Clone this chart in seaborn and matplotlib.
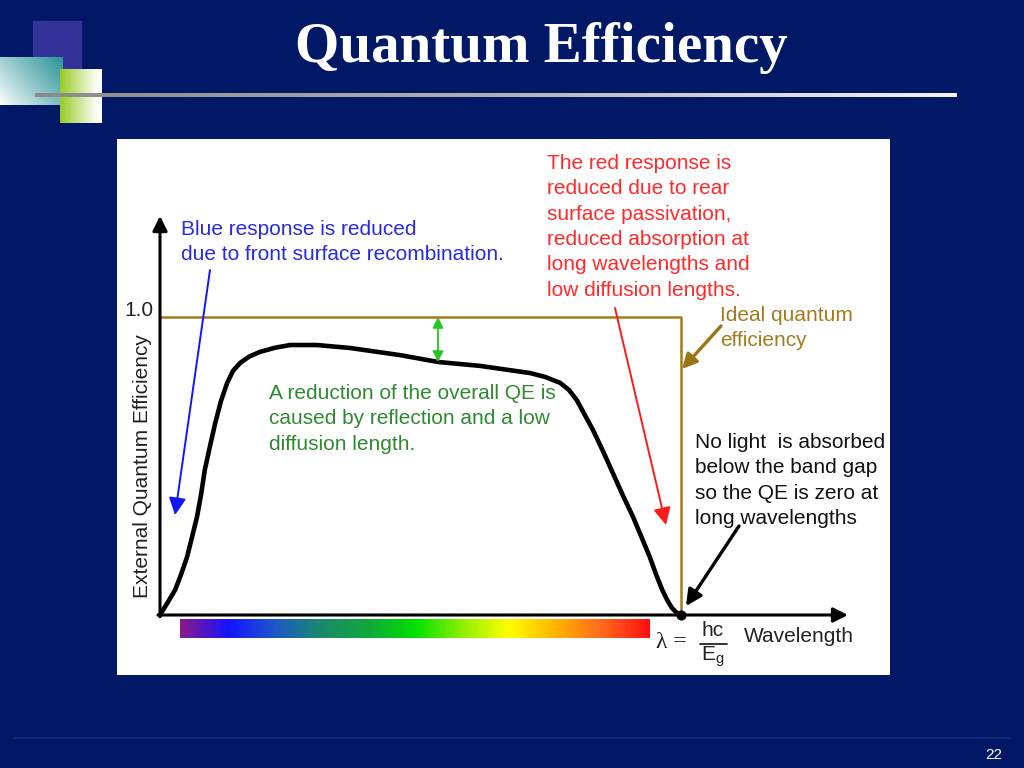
import numpy as np
import matplotlib
matplotlib.use("Agg")
import matplotlib.pyplot as plt
import seaborn as sns
from matplotlib.patches import Rectangle
from matplotlib.lines import Line2D
from matplotlib.colors import LinearSegmentedColormap

# wavelength normalised so that the band gap (lambda = hc/Eg) sits at 1.0
qe_wavelength = [0.0, 0.013, 0.029, 0.040, 0.052, 0.061, 0.071, 0.079, 0.086,
                 0.096, 0.106, 0.117, 0.129, 0.140, 0.154, 0.171, 0.192, 0.221,
                 0.250, 0.301, 0.365, 0.461, 0.534, 0.614, 0.710, 0.739, 0.768,
                 0.785, 0.800, 0.831, 0.850, 0.869, 0.888, 0.908, 0.925, 0.940,
                 0.952, 0.964, 0.975, 0.983, 0.992, 1.0]
qe_external = [0.0, 0.037, 0.084, 0.134, 0.195, 0.258, 0.329, 0.406, 0.487,
               0.567, 0.644, 0.718, 0.779, 0.819, 0.846, 0.867, 0.883, 0.897,
               0.906, 0.906, 0.896, 0.872, 0.849, 0.836, 0.812, 0.799, 0.779,
               0.755, 0.721, 0.621, 0.551, 0.477, 0.403, 0.329, 0.258, 0.195,
               0.137, 0.084, 0.045, 0.023, 0.007, 0.0]
ideal_wavelength = [0.0, 1.0, 1.0]
ideal_qe = [1.0, 1.0, 0.0]
spectrum_colors = ["#8a1a8c", "#1414ff", "#1e58c8", "#1a8a6a", "#12a83c",
                   "#00e000", "#8cf000", "#ffff00", "#ffb400", "#ff6a1e", "#ff1010"]

NAVY = "#001866"
FONT = ["Liberation Sans", "DejaVu Sans"]

sns.set_theme(style="white")
plt.rcParams["font.family"] = FONT

fig = plt.figure(figsize=(10.24, 7.68), dpi=100)
fig.patch.set_facecolor(NAVY)

# slide decoration in pixel coordinates
bg = fig.add_axes([0, 0, 1, 1])
bg.axis("off")
bg.set_facecolor(NAVY)

bg.add_patch(Rectangle((33, 21), 48, 47, color="#333399", zorder=1))
# teal -> white block
h, w = 48, 63
gx, gy = np.meshgrid(np.linspace(0, 1, w), np.linspace(0, 1, h))
t = np.clip((gx * 1.2 + (1 - gy) * 0.8) / 2, 0, 1) ** 0.9
teal = np.array([0.17, 0.58, 0.60])
img = (1 - t)[..., None] * np.ones(3) + t[..., None] * teal
bg.imshow(img, extent=[0, 63, 105, 57], zorder=2, interpolation="bilinear")
# yellow-green -> white block
h, w = 54, 42
gx, gy = np.meshgrid(np.linspace(0, 1, w), np.linspace(0, 1, h))
t = np.clip(gx * 1.1, 0, 1)
green = np.array([0.60, 0.80, 0.14])
img = (1 - t)[..., None] * green + t[..., None] * np.ones(3)
bg.imshow(img, extent=[60, 102, 123, 69], zorder=3, interpolation="bilinear")
# grey rule under the title
rule = np.linspace(0, 1, 200)[None, :]
rule_cmap = LinearSegmentedColormap.from_list("rule", ["#8a8a8a", "#b0b0b8", "#f4f4f8"])
bg.imshow(rule, cmap=rule_cmap, extent=[35, 957, 97, 93], aspect="auto", zorder=4)
bg.add_line(Line2D([15, 1010], [738, 738], color="#0e2c80", lw=1.2, zorder=1))
bg.set_xlim(0, 1024)
bg.set_ylim(768, 0)

bg.text(541, 48, "Quantum Efficiency", color="white", fontsize=41, fontweight="bold",
        family=["Liberation Serif", "DejaVu Serif"], ha="center", va="center")
bg.text(994, 755, "22", color="white", fontsize=11, ha="center", va="center")

# chart panel
ax = fig.add_axes([117 / 1024, (768 - 675) / 768, 773 / 1024, 536 / 768])
ax.set_facecolor("white")


def pt(x, y):
    # reference pixel -> data coordinates of the chart
    return (x - 160) / 521, (615 - y) / 298


sns.lineplot(x=ideal_wavelength, y=ideal_qe, sort=False, estimator=None,
             color="#a57a1c", lw=1.8, ax=ax, zorder=2)
sns.lineplot(x=qe_wavelength, y=qe_external, sort=False, estimator=None,
             color="black", lw=3.3, ax=ax, zorder=3)
sns.scatterplot(x=[ideal_wavelength[-1]], y=[ideal_qe[-1]], color="black", s=45,
                ax=ax, zorder=5, edgecolor="black")

spec_cmap = LinearSegmentedColormap.from_list("spectrum", spectrum_colors)
x0, y0 = pt(180, 638)
x1, y1 = pt(650, 619)
ax.imshow(np.linspace(0, 1, 300)[None, :], cmap=spec_cmap, aspect="auto",
          extent=[x0, x1, y0, y1], zorder=1)

# axes with arrow heads
ax.annotate("", xy=pt(848, 615), xytext=(-0.004, 0),
            arrowprops=dict(arrowstyle="-|>", lw=2.2, color="black", mutation_scale=22,
                            shrinkA=0, shrinkB=0), zorder=4)
ax.annotate("", xy=pt(160, 216), xytext=(0, -0.006),
            arrowprops=dict(arrowstyle="-|>", lw=2.2, color="black", mutation_scale=22,
                            shrinkA=0, shrinkB=0), zorder=4)

fs = 15
ls = 1.42
ink = "#222222"
ax.text(*pt(154, 311), "1.0", fontsize=fs, ha="right", va="center", color=ink)
ax.text(*pt(143, 466), "External Quantum Efficiency", fontsize=fs, rotation=90,
        ha="center", va="center", color=ink)
ax.text(*pt(744, 636), "Wavelength", fontsize=fs, ha="left", va="center", color=ink)
ax.text(*pt(656, 643), "\u03bb =", fontsize=fs + 2, ha="left", va="center", color=ink,
        family=["Liberation Serif", "DejaVu Serif"])
ax.text(*pt(713, 631), "hc", fontsize=fs, ha="center", va="center", color=ink)
ax.plot([pt(700, 0)[0], pt(727, 0)[0]], [pt(0, 644)[1]] * 2, color=ink, lw=1.3)
ax.text(*pt(701, 657), "E$_\\mathregular{g}$", fontsize=fs, ha="left", va="center",
        color=ink)

ax.text(*pt(181, 220), "Blue response is reduced\ndue to front surface recombination.",
        fontsize=fs, color="#2a2ae0", ha="left", va="top", linespacing=ls)
ax.annotate("", xy=pt(175, 515), xytext=pt(210, 270),
            arrowprops=dict(arrowstyle="-|>", lw=1.4, color="#1414ff", mutation_scale=26,
                            shrinkA=0, shrinkB=0))

ax.text(*pt(547, 154), "The red response is\nreduced due to rear\nsurface passivation,\n"
        "reduced absorption at\nlong wavelengths and\nlow diffusion lengths.",
        fontsize=fs, color="#ff2a2a", ha="left", va="top", linespacing=ls)
ax.annotate("", xy=pt(666, 525), xytext=pt(615, 308),
            arrowprops=dict(arrowstyle="-|>", lw=1.4, color="#ff1a1a", mutation_scale=26,
                            shrinkA=0, shrinkB=0))

ax.text(*pt(720, 306), "Ideal quantum\nefficiency", fontsize=fs, color="#a57a1c",
        ha="left", va="top", linespacing=ls)
ax.annotate("", xy=pt(682, 369), xytext=pt(721, 326),
            arrowprops=dict(arrowstyle="-|>", lw=2.4, color="#9c7418", mutation_scale=22,
                            shrinkA=0, shrinkB=0))

ax.text(*pt(269, 384), "A reduction of the overall QE is\ncaused by reflection and a low\n"
        "diffusion length.", fontsize=fs, color="#2f8a2f", ha="left", va="top",
        linespacing=ls)
ax.annotate("", xy=pt(438, 317), xytext=pt(438, 362),
            arrowprops=dict(arrowstyle="<|-|>", lw=1.3, color="#22c822", mutation_scale=16,
                            shrinkA=0, shrinkB=0))

ax.text(*pt(695, 433), "No light  is absorbed\nbelow the band gap\nso the QE is zero at\n"
        "long wavelengths", fontsize=fs, color="#111111", ha="left", va="top",
        linespacing=ls)
ax.annotate("", xy=pt(686, 606), xytext=pt(739, 526),
            arrowprops=dict(arrowstyle="-|>", lw=2.4, color="black", mutation_scale=24,
                            shrinkA=0, shrinkB=0))

ax.set_xlim(pt(117, 0)[0], pt(890, 0)[0])
ax.set_ylim(pt(0, 675)[1], pt(0, 139)[1])
ax.set_xticks([])
ax.set_yticks([])
for s in ax.spines.values():
    s.set_visible(False)

fig.savefig("out.png", dpi=100, facecolor=NAVY)
